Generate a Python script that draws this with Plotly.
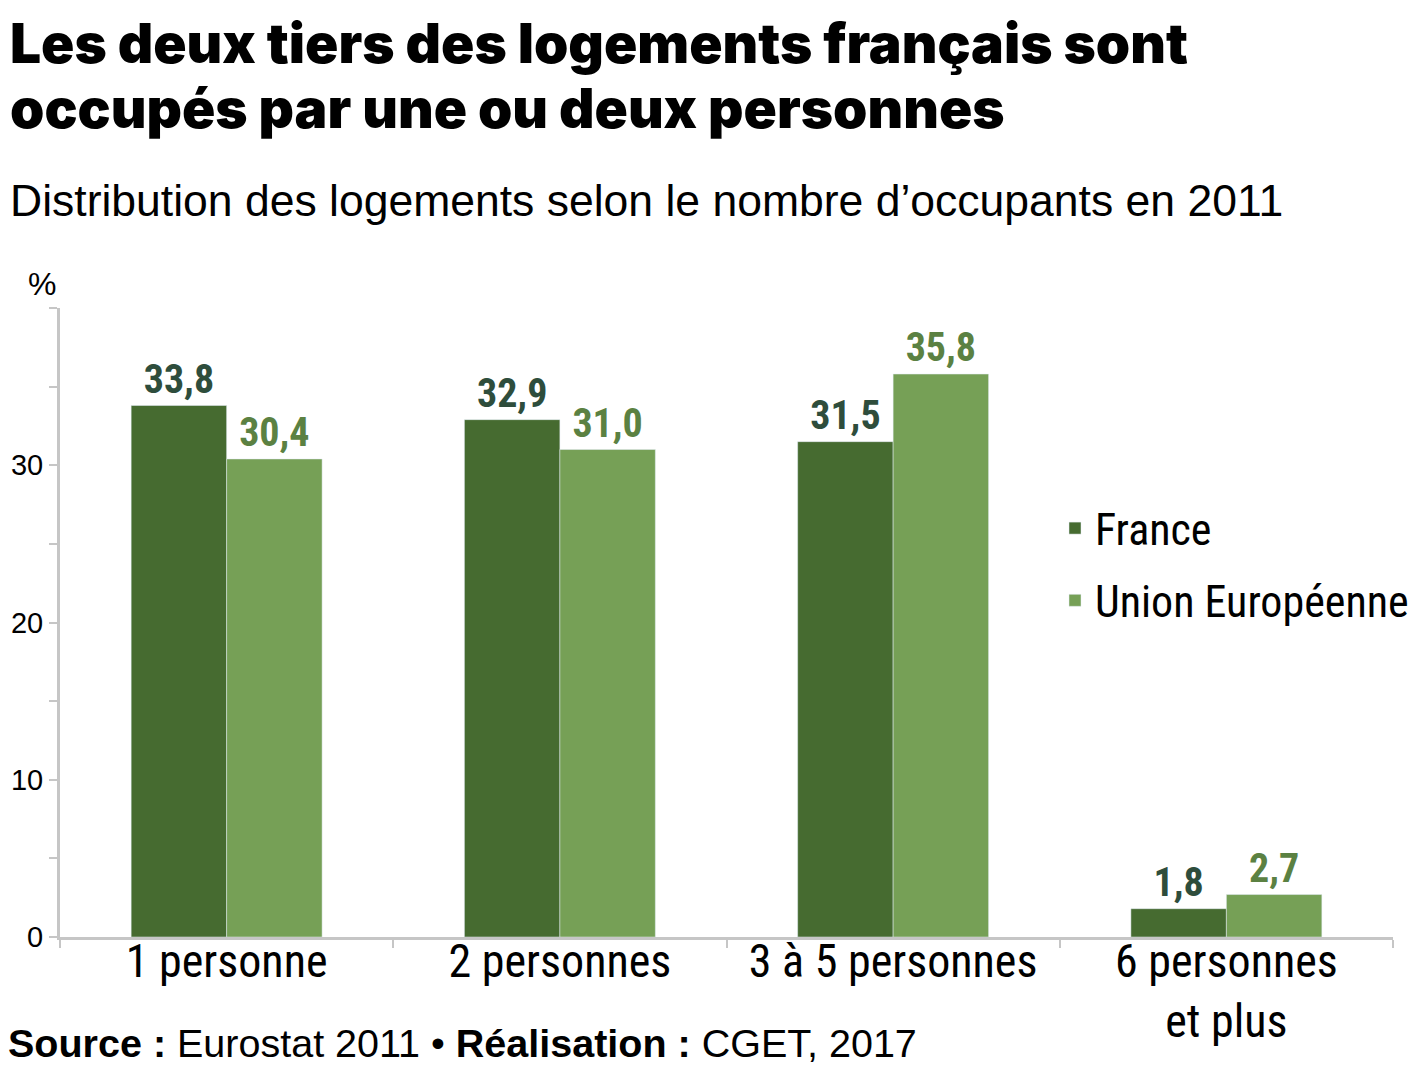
"""Housing occupancy distribution, France vs EU (2011)."""

import plotly.graph_objects as go

categories = ["1 personne", "2 personnes", "3 à 5 personnes", "6 personnes<br>et plus"]
france = [33.8, 32.9, 31.5, 1.8]
union_europeenne = [30.4, 31.0, 35.8, 2.7]
y_tickvals = [0, 5, 10, 15, 20, 25, 30, 35, 40]
y_ticktext = ["0", "", "10", "", "20", "", "30", "", ""]

# the page body adds an 8px margin, so the figure is drawn 8px smaller and
# every pixel position below is given in page coordinates
OFF = 8
WIDTH, HEIGHT = 1418 - OFF, 1068 - OFF
MARGIN = dict(l=60 - OFF, r=1418 - 1393, t=308 - OFF, b=1068 - 937, autoexpand=False)
PLOT_W = WIDTH - MARGIN["l"] - MARGIN["r"]
PLOT_H = HEIGHT - MARGIN["t"] - MARGIN["b"]

NARROW = "Roboto Condensed, Liberation Sans Narrow, sans-serif"
SANS = "Liberation Sans, Arial, sans-serif"
HEAVY = "Inter, Liberation Sans, sans-serif"
AXIS_GREY = "#c6c6c6"


def px_x(x):
    return (x - OFF - MARGIN["l"]) / PLOT_W


def px_y(y):
    return (HEIGHT - MARGIN["b"] - (y - OFF)) / PLOT_H


fig = go.Figure()
fig.add_trace(
    go.Bar(
        x=categories,
        y=france,
        name="France",
        legendgroup="fr",
        marker_color="#466b30",
        texttemplate="%{y:.1f}",
        textposition="outside",
        textfont=dict(family=NARROW, size=40, color="#2e4d3c", weight="bold"),
        cliponaxis=False,
    )
)
fig.add_trace(
    go.Bar(
        x=categories,
        y=union_europeenne,
        name="Union Européenne",
        legendgroup="ue",
        marker_color="#76a056",
        texttemplate="%{y:.1f}",
        textposition="outside",
        textfont=dict(family=NARROW, size=40, color="#5b8142", weight="bold"),
        cliponaxis=False,
    )
)

fig.update_layout(
    width=WIDTH,
    height=HEIGHT,
    margin=MARGIN,
    plot_bgcolor="white",
    paper_bgcolor="white",
    separators=", ",
    barmode="group",
    bargap=0.427,
    bargroupgap=0,
    showlegend=True,
    legend=dict(
        x=px_x(1055),
        y=px_y(493),
        xanchor="left",
        yanchor="top",
        font=dict(family=NARROW, size=44, color="black"),
        bgcolor="rgba(0,0,0,0)",
        traceorder="grouped",
        tracegroupgap=12,
    ),
    font=dict(family=SANS, color="black"),
)
fig.update_xaxes(
    type="category",
    automargin=False,
    tickangle=0,
    showline=True,
    linecolor=AXIS_GREY,
    linewidth=3,
    ticks="outside",
    tickson="boundaries",
    ticklen=8,
    tickwidth=2,
    tickcolor=AXIS_GREY,
    ticklabelstandoff=-18,
    tickfont=dict(family=NARROW, size=46, color="black"),
    showgrid=False,
)
fig.update_yaxes(
    range=[0, 40],
    automargin=False,
    tickmode="array",
    tickvals=y_tickvals,
    ticktext=y_ticktext,
    showline=True,
    linecolor=AXIS_GREY,
    linewidth=3,
    ticks="outside",
    ticklen=8,
    tickwidth=2,
    tickcolor=AXIS_GREY,
    tickfont=dict(family=SANS, size=29, color="black"),
    showgrid=False,
    zeroline=False,
)

annotations = [
    dict(
        text="Les deux tiers des logements français sont",
        x=px_x(8), y=px_y(43), yanchor="middle",
        font=dict(family=HEAVY, size=55, color="black", weight=900),
    ),
    dict(
        text="occupés par une ou deux personnes",
        x=px_x(8), y=px_y(108), yanchor="middle",
        font=dict(family=HEAVY, size=55, color="black", weight=900),
    ),
    dict(
        text="Distribution des logements selon le nombre d’occupants en 2011",
        x=px_x(8), y=px_y(200), yanchor="middle",
        font=dict(family=SANS, size=44.5, color="black"),
    ),
    dict(
        text="%",
        x=px_x(26), y=px_y(284), yanchor="middle",
        font=dict(family=SANS, size=32, color="black"),
    ),
    dict(
        text="<b>Source :</b> Eurostat 2011 • <b>Réalisation :</b> CGET, 2017",
        x=px_x(6), y=px_y(1043), yanchor="middle",
        font=dict(family=SANS, size=39.5, color="black"),
    ),
]
for a in annotations:
    a.update(xref="paper", yref="paper", xanchor="left", showarrow=False)
fig.update_layout(annotations=annotations)

fig.write_html("out.html")
